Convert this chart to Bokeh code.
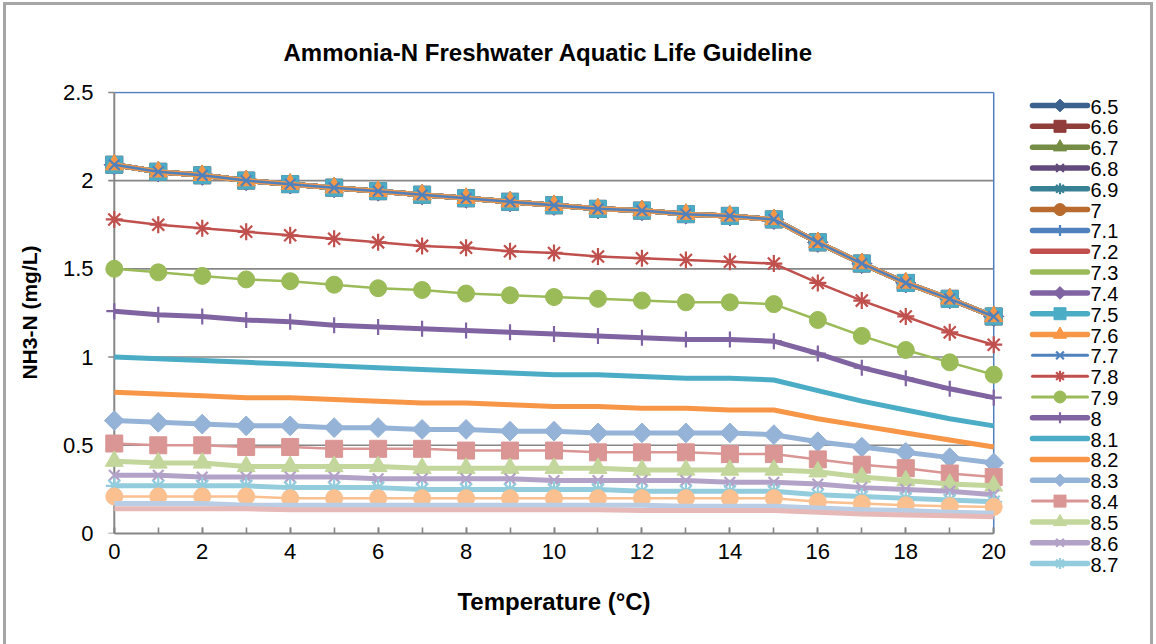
import math
from bokeh.plotting import figure
from bokeh.layouts import row
from bokeh.core.properties import value
from bokeh.models import Range1d, FixedTicker, NumeralTickFormatter
from bokeh.embed import file_html
from bokeh.resources import INLINE

# Water temperature (deg C)
temperature = list(range(21))

# Guideline NH3-N (mg/L) per pH, one list per pH
ph65 = [2.09, 2.05, 2.03, 2.00, 1.98, 1.96, 1.94, 1.92, 1.90, 1.88, 1.86, 1.84, 1.83, 1.81, 1.80, 1.78, 1.65, 1.53, 1.42, 1.33, 1.23]
ph66 = [2.09, 2.05, 2.03, 2.00, 1.98, 1.96, 1.94, 1.92, 1.90, 1.88, 1.86, 1.84, 1.83, 1.81, 1.80, 1.78, 1.65, 1.53, 1.42, 1.33, 1.23]
ph67 = [2.09, 2.05, 2.03, 2.00, 1.98, 1.96, 1.94, 1.92, 1.90, 1.88, 1.86, 1.84, 1.83, 1.81, 1.80, 1.78, 1.65, 1.53, 1.42, 1.33, 1.23]
ph68 = [2.09, 2.05, 2.03, 2.00, 1.98, 1.96, 1.94, 1.92, 1.90, 1.88, 1.86, 1.84, 1.83, 1.81, 1.80, 1.78, 1.65, 1.53, 1.42, 1.33, 1.23]
ph69 = [2.09, 2.05, 2.03, 2.00, 1.98, 1.96, 1.94, 1.92, 1.90, 1.88, 1.86, 1.84, 1.83, 1.81, 1.80, 1.78, 1.65, 1.53, 1.42, 1.33, 1.23]
ph70 = [2.09, 2.05, 2.03, 2.00, 1.98, 1.96, 1.94, 1.92, 1.90, 1.88, 1.86, 1.84, 1.83, 1.81, 1.80, 1.78, 1.65, 1.53, 1.42, 1.33, 1.23]
ph71 = [2.09, 2.05, 2.03, 2.00, 1.98, 1.96, 1.94, 1.92, 1.90, 1.88, 1.86, 1.84, 1.83, 1.81, 1.80, 1.78, 1.65, 1.53, 1.42, 1.33, 1.23]
ph72 = [2.09, 2.05, 2.03, 2.00, 1.98, 1.96, 1.94, 1.92, 1.90, 1.88, 1.86, 1.84, 1.83, 1.81, 1.80, 1.78, 1.65, 1.53, 1.42, 1.33, 1.23]
ph73 = [2.09, 2.05, 2.03, 2.00, 1.98, 1.96, 1.94, 1.92, 1.90, 1.88, 1.86, 1.84, 1.83, 1.81, 1.80, 1.78, 1.65, 1.53, 1.42, 1.33, 1.23]
ph74 = [2.09, 2.05, 2.03, 2.00, 1.98, 1.96, 1.94, 1.92, 1.90, 1.88, 1.86, 1.84, 1.83, 1.81, 1.80, 1.78, 1.65, 1.53, 1.42, 1.33, 1.23]
ph75 = [2.09, 2.05, 2.03, 2.00, 1.98, 1.96, 1.94, 1.92, 1.90, 1.88, 1.86, 1.84, 1.83, 1.81, 1.80, 1.78, 1.65, 1.53, 1.42, 1.33, 1.23]
ph76 = [2.09, 2.05, 2.03, 2.00, 1.98, 1.96, 1.94, 1.92, 1.90, 1.88, 1.86, 1.84, 1.83, 1.81, 1.80, 1.78, 1.65, 1.53, 1.42, 1.33, 1.23]
ph77 = [2.09, 2.05, 2.03, 2.00, 1.98, 1.96, 1.94, 1.92, 1.90, 1.88, 1.86, 1.84, 1.83, 1.81, 1.80, 1.78, 1.65, 1.53, 1.42, 1.33, 1.23]
ph78 = [1.78, 1.75, 1.73, 1.71, 1.69, 1.67, 1.65, 1.63, 1.62, 1.60, 1.59, 1.57, 1.56, 1.55, 1.54, 1.53, 1.42, 1.32, 1.23, 1.14, 1.07]
ph79 = [1.50, 1.48, 1.46, 1.44, 1.43, 1.41, 1.39, 1.38, 1.36, 1.35, 1.34, 1.33, 1.32, 1.31, 1.31, 1.30, 1.21, 1.12, 1.04, 0.97, 0.90]
ph80 = [1.26, 1.24, 1.23, 1.21, 1.20, 1.18, 1.17, 1.16, 1.15, 1.14, 1.13, 1.12, 1.11, 1.10, 1.10, 1.09, 1.02, 0.94, 0.88, 0.82, 0.77]
ph81 = [1.00, 0.99, 0.98, 0.97, 0.96, 0.95, 0.94, 0.93, 0.92, 0.91, 0.90, 0.90, 0.89, 0.88, 0.88, 0.87, 0.81, 0.75, 0.70, 0.65, 0.61]
ph82 = [0.80, 0.79, 0.78, 0.77, 0.77, 0.76, 0.75, 0.74, 0.74, 0.73, 0.72, 0.72, 0.71, 0.71, 0.70, 0.70, 0.65, 0.61, 0.57, 0.53, 0.49]
ph83 = [0.64, 0.63, 0.62, 0.61, 0.61, 0.60, 0.60, 0.59, 0.59, 0.58, 0.58, 0.57, 0.57, 0.57, 0.57, 0.56, 0.52, 0.49, 0.46, 0.43, 0.40]
ph84 = [0.51, 0.50, 0.50, 0.49, 0.49, 0.48, 0.48, 0.48, 0.47, 0.47, 0.47, 0.46, 0.46, 0.46, 0.45, 0.45, 0.42, 0.39, 0.37, 0.34, 0.32]
ph85 = [0.41, 0.40, 0.40, 0.38, 0.38, 0.38, 0.38, 0.37, 0.37, 0.37, 0.37, 0.37, 0.36, 0.36, 0.36, 0.36, 0.35, 0.32, 0.30, 0.28, 0.27]
ph86 = [0.33, 0.33, 0.32, 0.32, 0.32, 0.32, 0.31, 0.31, 0.31, 0.31, 0.30, 0.30, 0.30, 0.30, 0.29, 0.29, 0.28, 0.26, 0.25, 0.24, 0.22]
ph87 = [0.27, 0.27, 0.27, 0.27, 0.26, 0.26, 0.26, 0.25, 0.25, 0.25, 0.25, 0.25, 0.24, 0.24, 0.24, 0.24, 0.22, 0.21, 0.20, 0.19, 0.18]
ph88 = [0.21, 0.21, 0.21, 0.21, 0.20, 0.20, 0.20, 0.20, 0.20, 0.20, 0.20, 0.20, 0.20, 0.20, 0.20, 0.20, 0.18, 0.17, 0.16, 0.155, 0.15]
ph89 = [0.17, 0.17, 0.17, 0.16, 0.16, 0.16, 0.16, 0.16, 0.16, 0.16, 0.16, 0.16, 0.16, 0.155, 0.155, 0.155, 0.145, 0.135, 0.13, 0.12, 0.115]
ph90 = [0.14, 0.14, 0.14, 0.14, 0.135, 0.135, 0.135, 0.135, 0.135, 0.135, 0.135, 0.135, 0.13, 0.13, 0.13, 0.13, 0.12, 0.11, 0.105, 0.10, 0.095]

ph_labels = ["6.5", "6.6", "6.7", "6.8", "6.9", "7", "7.1", "7.2", "7.3", "7.4", "7.5", "7.6",
             "7.7", "7.8", "7.9", "8", "8.1", "8.2", "8.3", "8.4", "8.5", "8.6", "8.7", "8.8", "8.9", "9"]
series = [ph65, ph66, ph67, ph68, ph69, ph70, ph71, ph72, ph73, ph74, ph75, ph76,
          ph77, ph78, ph79, ph80, ph81, ph82, ph83, ph84, ph85, ph86, ph87, ph88, ph89, ph90]

y_ticks = [0, 0.5, 1.0, 1.5, 2.0, 2.5]
x_label_ticks = list(range(0, 21, 2))

# line colour, line width, marker for each series
styles = [
    ("#3B618E", 5, "diamond"), ("#903C3A", 5, "square"), ("#748C43", 5, "triangle"),
    ("#604B7A", 5, "x"), ("#388195", 5, "asterisk"), ("#B96B2E", 5, "circle"),
    ("#4F81BD", 5, "cross"), ("#C0504D", 5, None), ("#9BBB59", 5, None),
    ("#8064A2", 5, "diamond"), ("#4BACC6", 5, "square"), ("#F79646", 5, "triangle"),
    ("#4F81BD", 2.5, "x"), ("#C0504D", 2.5, "asterisk"), ("#9BBB59", 2.5, "circle"),
    ("#8064A2", 5, "cross"), ("#4BACC6", 5, None), ("#F79646", 5, None),
    ("#95B3D7", 5, "diamond"), ("#D99694", 2.5, "square"), ("#C3D69B", 5, "triangle"),
    ("#B3A2C7", 5, "x"), ("#93CDDD", 5, "asterisk"), ("#FAC090", 2.5, "circle"),
    ("#B9CDE5", 5, None), ("#E6B9B8", 5, None),
]
LEGEND_COUNT = 23  # entries that fit in the legend column

FONT = "Liberation Sans"
GRID = "#868686"
FRAME_BLUE = "#4F81BD"
STROKE_MARKERS = ("x", "asterisk", "cross")


def add_marker(fig, xs, ys, color, marker, size):
    """Scatter with Excel-like marker shapes (diamond = square turned 45 degrees)."""
    kind = "square" if marker == "diamond" else marker
    angle = math.pi / 4 if marker == "diamond" else 0
    return fig.scatter(xs, ys, marker=kind, size=size, angle=angle,
                       fill_color=color, line_color=color,
                       line_width=2.2 if marker in STROKE_MARKERS else 1)


# ---------------- main chart ----------------
p = figure(width=1007, height=639, output_backend="svg", toolbar_location=None,
           x_range=Range1d(-0.45, 20.45), y_range=Range1d(0, 2.505),
           min_border_left=88, min_border_right=0, min_border_top=86, min_border_bottom=111)
p.frame_align = False
p.outline_line_color = None
p.xgrid.visible = False
p.ygrid.visible = False
p.background_fill_color = "white"
p.border_fill_color = "white"

p.title.text = "Ammonia-N Freshwater Aquatic Life Guideline"
p.title.align = "left"
p.title.offset = 189
p.title.standoff = 51
p.title.text_font = FONT
p.title.text_font_style = "bold"
p.title.text_font_size = "24px"
p.title.text_color = "black"

# gridlines, blue top/right edges of the plot area, vertical axis line and its ticks
grid_levels = y_ticks[1:-1]
p.segment(x0=[0] * len(grid_levels), x1=[20] * len(grid_levels), y0=grid_levels, y1=grid_levels,
          line_color=GRID, line_width=1.6)
p.segment(x0=[0, 20], x1=[20, 20], y0=[2.5, 0], y1=[2.5, 2.5], line_color=FRAME_BLUE, line_width=1.5)
tick_len = 6 / 43.97
p.segment(x0=[0], x1=[0], y0=[0], y1=[2.5], line_color=GRID, line_width=2)
p.segment(x0=[-tick_len] * len(y_ticks), x1=[0] * len(y_ticks), y0=y_ticks, y1=y_ticks,
          line_color=GRID, line_width=1.6)

xa = p.xaxis[0]
xa.bounds = (0, 20)
xa.ticker = FixedTicker(ticks=x_label_ticks, minor_ticks=temperature)
xa.axis_line_color = GRID
xa.axis_line_width = 2
xa.major_tick_line_color = GRID
xa.minor_tick_line_color = GRID
xa.major_tick_line_width = 1.6
xa.minor_tick_line_width = 1.6
xa.major_tick_in = 6
xa.major_tick_out = 0
xa.minor_tick_in = 6
xa.minor_tick_out = 0
xa.major_label_standoff = 10
xa.major_label_text_font = FONT
xa.major_label_text_font_size = "22px"
xa.major_label_text_color = "black"
xa.axis_label = "Temperature (°C)"
xa.axis_label_standoff = 26
xa.axis_label_text_font = FONT
xa.axis_label_text_font_style = "bold"
xa.axis_label_text_font_size = "24px"
xa.axis_label_text_color = "black"

ya = p.yaxis[0]
ya.ticker = FixedTicker(ticks=y_ticks)
ya.formatter = NumeralTickFormatter(format="0.[0]")
ya.axis_line_color = None
ya.major_tick_line_color = None
ya.minor_tick_line_color = None
ya.major_tick_in = 0
ya.major_tick_out = 0
ya.major_label_standoff = 1
ya.major_label_text_font = FONT
ya.major_label_text_font_size = "22px"
ya.major_label_text_color = "black"
ya.axis_label = "NH3-N (mg/L)"
ya.axis_label_standoff = 19
ya.axis_label_text_font = FONT
ya.axis_label_text_font_style = "bold"
ya.axis_label_text_font_size = "21px"
ya.axis_label_text_color = "black"

marker_size = {"diamond": 14, "square": 17, "triangle": 18, "x": 15, "asterisk": 17,
               "circle": 17, "cross": 16}

for values, (color, lw, marker) in zip(series, styles):
    p.line(temperature, values, line_color=color, line_width=lw, line_join="round")
    if marker is not None:
        add_marker(p, temperature, values, color, marker, marker_size[marker])

# ---------------- legend column ----------------
leg = figure(width=137, height=639, output_backend="svg", toolbar_location=None, title=None,
             x_range=Range1d(0, 137), y_range=Range1d(639, 0),
             x_axis_type=None, y_axis_type=None, min_border=0)
leg.frame_align = False
leg.outline_line_color = None
leg.background_fill_color = "white"
leg.border_fill_color = "white"

legend_marker_size = {"diamond": 9, "square": 12, "triangle": 13, "x": 11, "asterisk": 11,
                      "circle": 12, "cross": 11}
row_y0, row_step = 100, 20.82
for i in range(LEGEND_COUNT):
    color, lw, marker = styles[i]
    yy = row_y0 + i * row_step
    leg.segment(x0=[19], x1=[74], y0=[yy], y1=[yy], line_color=color, line_width=lw + 0.5,
                line_cap="round")
    if marker is not None:
        add_marker(leg, [46.5], [yy], color, marker, legend_marker_size[marker])
    leg.text(x=[77], y=[yy + 1], text=[ph_labels[i]], text_font=value(FONT), text_font_size="20px",
             text_color="black", text_align="left", text_baseline="middle")

# grey chart border (open at the bottom)
page = row(p, leg, styles={"border-top": "3px solid #A6A6A6", "border-left": "3px solid #A6A6A6",
                           "border-right": "3px solid #A6A6A6", "margin-left": "3px", "margin-top": "2px"})

open("out.html", "w").write(file_html(page, INLINE))
